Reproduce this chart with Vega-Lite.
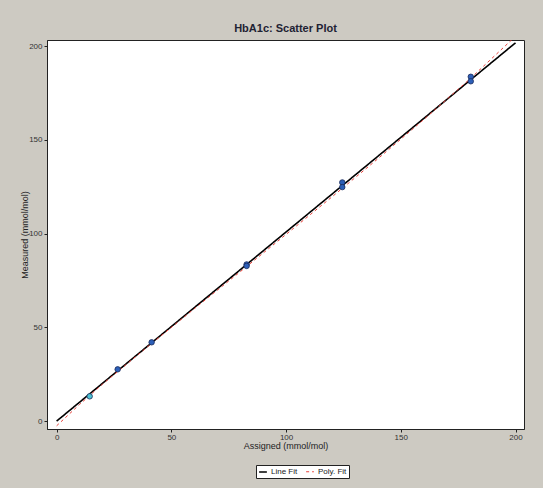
{
  "$schema": "https://vega.github.io/schema/vega-lite/v6.json",
  "autosize": {"type": "none"},
  "width": 477,
  "height": 389,
  "padding": {"left": 47, "top": 40, "right": 19, "bottom": 59},
  "background": "#cdcac2",
  "title": {"text": "HbA1c: Scatter Plot", "font": "Liberation Sans", "fontSize": 11, "fontWeight": "bold", "color": "#1e2233", "offset": 6, "anchor": "middle"},
  "config": {
    "view": {"fill": "white", "stroke": "#222", "strokeWidth": 1},
    "axis": {"grid": false, "labelFont": "Liberation Sans", "titleFont": "Liberation Sans", "labelFontSize": 8, "titleFontSize": 9, "titleFontWeight": "normal", "labelColor": "#333", "titleColor": "#222", "domainColor": "#222", "tickColor": "#222", "tickSize": 3}
  },
  "datasets": {
    "fits": [
      {"series": "Line Fit", "x": 0, "y": 0.1},
      {"series": "Line Fit", "x": 200, "y": 201.7},
      {"series": "Poly. Fit", "x": 0, "y": -2.4},
      {"series": "Poly. Fit", "x": 10, "y": 9.0},
      {"series": "Poly. Fit", "x": 20, "y": 19.8},
      {"series": "Poly. Fit", "x": 40, "y": 40.1},
      {"series": "Poly. Fit", "x": 60, "y": 60.0},
      {"series": "Poly. Fit", "x": 80, "y": 79.7},
      {"series": "Poly. Fit", "x": 100, "y": 99.6},
      {"series": "Poly. Fit", "x": 120, "y": 119.6},
      {"series": "Poly. Fit", "x": 140, "y": 139.9},
      {"series": "Poly. Fit", "x": 160, "y": 160.8},
      {"series": "Poly. Fit", "x": 180, "y": 182.3},
      {"series": "Poly. Fit", "x": 200, "y": 205.2}
    ],
    "points": [
      {"kind": "a", "x": 14.4, "y": 13.3},
      {"kind": "b", "x": 26.6, "y": 27.7},
      {"kind": "b", "x": 41.4, "y": 42.1},
      {"kind": "b", "x": 82.8, "y": 83.6},
      {"kind": "b", "x": 82.8, "y": 82.8},
      {"kind": "b", "x": 124.5, "y": 127.3},
      {"kind": "b", "x": 124.5, "y": 124.8},
      {"kind": "b", "x": 180.5, "y": 183.6},
      {"kind": "b", "x": 180.5, "y": 181.2}
    ]
  },
  "layer": [
    {
      "data": {"name": "fits"},
      "mark": {"type": "line", "clip": true},
      "encoding": {
        "x": {"field": "x", "type": "quantitative", "scale": {"domain": [-4.2, 203.7], "nice": false, "zero": false}, "axis": {"values": [0, 50, 100, 150, 200], "title": "Assigned (mmol/mol)", "titlePadding": 0, "labelPadding": 1}},
        "y": {"field": "y", "type": "quantitative", "scale": {"domain": [-4.1, 203.2], "nice": false, "zero": false}, "axis": {"values": [0, 50, 100, 150, 200], "title": "Measured (mmol/mol)", "titlePadding": -1, "labelPadding": 2}},
        "color": {"field": "series", "type": "nominal", "scale": {"domain": ["Line Fit", "Poly. Fit"], "range": ["#000000", "#e8403a"]},
          "legend": {"title": null, "orient": "none", "legendX": 209, "legendY": 425, "direction": "horizontal", "columns": 2, "fillColor": "white", "strokeColor": "#222", "padding": 2, "symbolType": "stroke", "symbolSize": 60, "symbolStrokeWidth": 1.5, "labelFont": "Liberation Sans", "labelFontSize": 8, "labelColor": "#222", "columnPadding": 6, "labelOffset": 3}},
        "strokeDash": {"field": "series", "type": "nominal", "scale": {"domain": ["Line Fit", "Poly. Fit"], "range": [[1, 0], [3, 3]]}, "legend": {"title": null, "orient": "none", "legendX": 209, "legendY": 425, "direction": "horizontal", "columns": 2, "fillColor": "white", "strokeColor": "#222", "padding": 2, "symbolType": "stroke", "symbolSize": 60, "symbolStrokeWidth": 1.5, "labelFont": "Liberation Sans", "labelFontSize": 8, "labelColor": "#222", "columnPadding": 6, "labelOffset": 3}},
        "strokeWidth": {"field": "series", "type": "nominal", "scale": {"domain": ["Line Fit", "Poly. Fit"], "range": [1.6, 1]}, "legend": null}
      }
    },
    {
      "data": {"name": "points"},
      "mark": {"type": "point", "filled": true, "size": 30, "stroke": "#1b2b5a", "strokeWidth": 0.8, "opacity": 1},
      "encoding": {
        "x": {"field": "x", "type": "quantitative"},
        "y": {"field": "y", "type": "quantitative"},
        "fill": {"field": "kind", "type": "nominal", "scale": {"domain": ["a", "b"], "range": ["#4cc3d3", "#2c5fb8"]}, "legend": null}
      }
    }
  ]
}
